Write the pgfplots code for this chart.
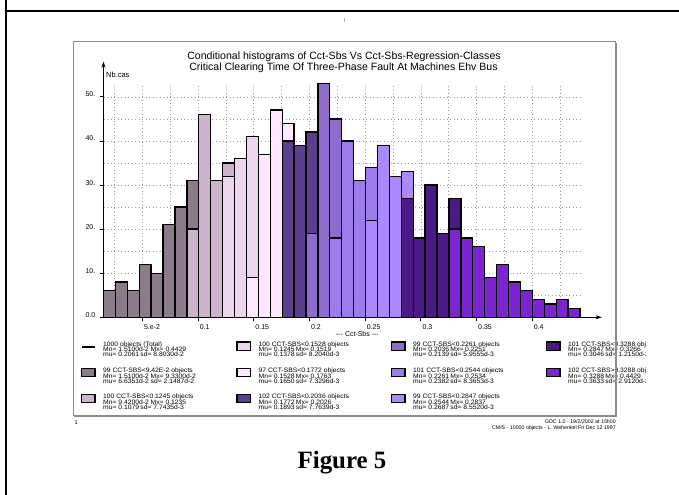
\documentclass[border=0pt]{standalone}
\usepackage{pgfplots}
\usepackage{pgfplotstable}
\pgfplotsset{compat=1.18}
\usepackage{fontspec}
\setmainfont{Liberation Sans}
\newfontfamily\serifbf{Liberation Serif}
\newfontfamily\legfont[FakeStretch=1.06]{Liberation Sans}
\usetikzlibrary{arrows.meta}

\definecolor{cB}{HTML}{8B7B8B}
\definecolor{cC}{HTML}{CDB3CD}
\definecolor{cD}{HTML}{EED5EE}
\definecolor{cE}{HTML}{FEE6FE}
\definecolor{cF}{HTML}{5B3F8C}
\definecolor{cG}{HTML}{8E6CCE}
\definecolor{cH}{HTML}{9C7BEA}
\definecolor{cI}{HTML}{AB89FC}
\definecolor{cJ}{HTML}{4B1A87}
\definecolor{cK}{HTML}{7B24CF}
\definecolor{framegray}{HTML}{8C8C8C}

\pgfplotstableread{
x y
0.02045 6
0.03114 8
0.04184 6
0.05253 12
0.06323 10
0.07392 21
0.08462 25
0.09531 31
}\clB
\pgfplotstableread{
x y
0.09531 20
0.10601 46
0.11670 31
0.12740 35
}\clC
\pgfplotstableread{
x y
0.12740 32
0.13809 36
0.14879 41
}\clD
\pgfplotstableread{
x y
0.14879 9
0.15948 37
0.17018 47
0.18087 44
}\clE
\pgfplotstableread{
x y
0.18087 40
0.19157 39
0.20226 42
}\clF
\pgfplotstableread{
x y
0.20226 19
0.21296 53
0.22365 45
}\clG
\pgfplotstableread{
x y
0.22365 18
0.23435 40
0.24504 31
0.25574 34
}\clH
\pgfplotstableread{
x y
0.25574 22
0.26643 39
0.27713 32
0.28782 33
}\clI
\pgfplotstableread{
x y
0.28782 27
0.29852 18
0.30921 30
0.31991 19
0.33060 27
}\clJ
\pgfplotstableread{
x y
0.33060 20
0.34130 18
0.35199 16
0.36269 9
0.37338 12
0.38408 8
0.39477 6
0.40547 4
0.41616 3
0.42686 4
0.43755 2
}\clK

\tikzset{lt/.style={anchor=base west, inner sep=0pt, font=\legfont\fontsize{6.4}{6.4}\selectfont}}
\newcommand\lentry[6]{%
  \filldraw[fill=#3, draw=black, line width=1.3bp] (#1,#2-4.5) rectangle ++(13.5,8.3);
  \node[lt] at (#1+21.5,#2) {#4};
  \node[lt] at (#1+21.5,#2+5.2) {#5};
  \node[lt] at (#1+21.5,#2+10.4) {#6};
}
\newcommand\fA[1]{\makebox[22bp][l]{#1}}

\begin{document}
\begin{tikzpicture}
\path[use as bounding box] (0,0) rectangle (679bp,-495bp);
\fill[white] (0,0) rectangle (679bp,-495bp);
\begin{scope}[x=1bp,y=-1bp]
  \draw[black, line width=2.2bp] (6.2,0) -- (6.2,495);
  \draw[black, line width=2.2bp] (6.2,10.7) -- (679,10.7);
  \draw[gray!60, line width=0.7bp] (344,17.5) -- (344,22);
  % title
  \node[anchor=base, inner sep=0pt, font=\fontsize{10.6}{11}\selectfont] at (344,59) {Conditional histograms of Cct-Sbs Vs Cct-Sbs-Regression-Classes};
  \node[anchor=base, inner sep=0pt, font=\fontsize{10.6}{11}\selectfont] at (343.5,70.3) {Critical Clearing Time Of Three-Phase Fault At Machines Ehv Bus};
  % legend column 1
  \draw[black, line width=2bp] (81.5,347) -- (95,347);
  \node[lt] at (103,346.5) {1000 objects (Total)};
  \node[lt] at (103,351.7) {Mn=\ 1.5100d-2 Mx=\ 0.4429};
  \node[lt] at (103,356.9) {mu=\ \fA{0.2061}sd=\ 8.8030d-2};
  \lentry{81.5}{372.8}{cB}{99 CCT-SBS<9.42E-2 objects}{Mn=\ 1.5100d-2 Mx=\ 9.3300d-2}{mu=\ 6.6351d-2 sd=\ 2.1487d-2}
  \lentry{81.5}{398.8}{cC}{100 CCT-SBS<0.1245 objects}{Mn=\ 9.4200d-2 Mx=\ 0.1235}{mu=\ \fA{0.1079}sd=\ 7.7435d-3}
  % column 2
  \lentry{237}{346.5}{cD}{100 CCT-SBS<0.1528 objects}{Mn=\ \fA{0.1245}Mx=\ 0.1519}{mu=\ \fA{0.1378}sd=\ 8.2040d-3}
  \lentry{237}{372.8}{cE}{97 CCT-SBS<0.1772 objects}{Mn=\ \fA{0.1528}Mx=\ 0.1763}{mu=\ \fA{0.1650}sd=\ 7.3296d-3}
  \lentry{237}{398.8}{cF}{102 CCT-SBS<0.2036 objects}{Mn=\ \fA{0.1772}Mx=\ 0.2026}{mu=\ \fA{0.1893}sd=\ 7.7639d-3}
  % column 3
  \lentry{391.5}{346.5}{cG}{99 CCT-SBS<0.2261 objects}{Mn=\ \fA{0.2036}Mx=\ 0.2251}{mu=\ \fA{0.2139}sd=\ 5.9555d-3}
  \lentry{391.5}{372.8}{cH}{101 CCT-SBS<0.2544 objects}{Mn=\ \fA{0.2261}Mx=\ 0.2534}{mu=\ \fA{0.2382}sd=\ 8.3653d-3}
  \lentry{391.5}{398.8}{cI}{99 CCT-SBS<0.2847 objects}{Mn=\ \fA{0.2544}Mx=\ 0.2837}{mu=\ \fA{0.2687}sd=\ 8.5520d-3}
  % column 4 (clipped)
  \begin{scope}
    \clip (0,0) rectangle (645,495);
    \lentry{546.5}{346.5}{cJ}{101 CCT-SBS<0.3288 objects}{Mn=\ \fA{0.2847}Mx=\ 0.3266}{mu=\ \fA{0.3046}sd=\ 1.2150d-2}
    \lentry{546.5}{372.8}{cK}{102 CCT-SBS>0.3288 objects}{Mn=\ \fA{0.3288}Mx=\ 0.4429}{mu=\ \fA{0.3633}sd=\ 2.9120d-2}
  \end{scope}
  % frame
  \draw[framegray, line width=1bp] (73.3,41.7) rectangle (615.7,415.7);
  \draw[framegray, line width=1.6bp] (616.6,42.5) -- (616.6,416.5) -- (74,416.5);
  % footer
  \node[anchor=base west, inner sep=0pt, font=\fontsize{5.6}{6}\selectfont] at (74.5,424) {1};
  \node[anchor=base east, inner sep=0pt, font=\fontsize{5.3}{6}\selectfont] at (616,423) {GOC 1.0 - 19/2/2002 at 15h00};
  \node[anchor=base east, inner sep=0pt, font=\fontsize{5.3}{6}\selectfont] at (616,429.5) {CMIS - 10000 objects - L. Wehenkel Fri Dec 12 1997};
  \node[anchor=base, inner sep=0pt, font=\serifbf\bfseries\fontsize{25}{25}\selectfont] at (342,468) {Figure 5};
\end{scope}

\begin{axis}[
  at={(103.5bp,-317.3bp)}, anchor=south west,
  scale only axis, width=476.5bp, height=233.7bp,
  xmin=0.0151, xmax=0.4429, ymin=0, ymax=53,
  axis line style={draw=none},
  tick pos=left,
  tick align=outside,
  major tick length=4bp, minor tick length=0pt,
  tick style={black, line width=0.8bp},
  xtick={0.05,0.1,0.15,0.2,0.25,0.3,0.35,0.4},
  xticklabels={5.e-2,0.1,0.15,0.2,0.25,0.3,0.35,0.4},
  minor xtick={0.025,0.075,0.125,0.175,0.225,0.275,0.325,0.375,0.425},
  ytick={0,10,20,30,40,50},
  yticklabels={0.0,10.,20.,30.,40.,50.},
  minor ytick={5,15,25,35,45},
  grid=both,
  major grid style={draw=gray!80, line width=0.65bp, dash pattern=on 0.7bp off 2.8bp},
  minor grid style={draw=gray!80, line width=0.65bp, dash pattern=on 0.7bp off 2.8bp},
  clip=false,
  xticklabel style={anchor=north west, inner sep=0pt, font=\fontsize{7}{7}\selectfont, xshift=1.5bp, yshift=-3bp},
  yticklabel style={anchor=base east, inner sep=0pt, font=\fontsize{7}{7}\selectfont, xshift=-4bp},
]
\addplot[ybar, bar width=0.010695, bar shift=0pt, fill=cB, draw=black, line width=1.3bp] table {\clB};
\addplot[ybar, bar width=0.010695, bar shift=0pt, fill=cC, draw=black, line width=1.3bp] table {\clC};
\addplot[ybar, bar width=0.010695, bar shift=0pt, fill=cD, draw=black, line width=1.3bp] table {\clD};
\addplot[ybar, bar width=0.010695, bar shift=0pt, fill=cE, draw=black, line width=1.3bp] table {\clE};
\addplot[ybar, bar width=0.010695, bar shift=0pt, fill=cF, draw=black, line width=1.3bp] table {\clF};
\addplot[ybar, bar width=0.010695, bar shift=0pt, fill=cG, draw=black, line width=1.3bp] table {\clG};
\addplot[ybar, bar width=0.010695, bar shift=0pt, fill=cH, draw=black, line width=1.3bp] table {\clH};
\addplot[ybar, bar width=0.010695, bar shift=0pt, fill=cI, draw=black, line width=1.3bp] table {\clI};
\addplot[ybar, bar width=0.010695, bar shift=0pt, fill=cJ, draw=black, line width=1.3bp] table {\clJ};
\addplot[ybar, bar width=0.010695, bar shift=0pt, fill=cK, draw=black, line width=1.3bp] table {\clK};
\draw[black, line width=1.3bp, -{Stealth[length=6bp,width=4bp]}] (axis cs:0.0151,0) -- (axis cs:0.4624,0);
\draw[black, line width=1.3bp, -{Stealth[length=6bp,width=4bp]}] (axis cs:0.0151,0) -- (axis cs:0.0151,58);
\node[anchor=base west, inner sep=0pt, xshift=2.5bp, font=\fontsize{7.5}{7.5}\selectfont] at (axis cs:0.0151,54.3) {Nb.cas};
\node[anchor=base, inner sep=0pt, font=\fontsize{7}{7}\selectfont] at (axis cs:0.2431,-4.3) {-{}-{}- Cct-Sbs -{}-{}-};
\end{axis}
\end{tikzpicture}
\end{document}
